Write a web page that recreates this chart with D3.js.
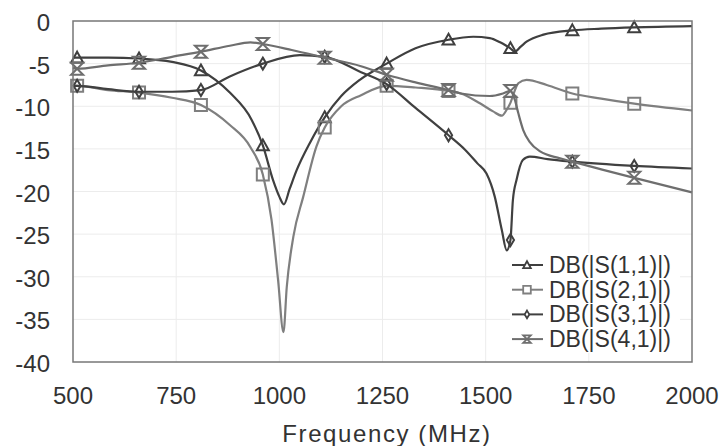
<!DOCTYPE html>
<meta charset="utf-8">
<style>
body { margin: 0; background: #fff; }
text { font-family: "Liberation Sans", Arial, sans-serif; fill: #333; }
</style>
<body>
<div class="chart"></div>
<script src="https://cdn.jsdelivr.net/npm/d3@7"></script>
<script>

// frequencies (MHz) where the markers sit
var markerFreqs = [510, 660, 810, 960, 1110, 1260, 1410, 1560, 1710, 1860];
var xTicks = [500, 750, 1000, 1250, 1500, 1750, 2000];
var yTicks = [0, -5, -10, -15, -20, -25, -30, -35, -40];
var seriesNames = ["DB(|S(1,1)|)", "DB(|S(2,1)|)", "DB(|S(3,1)|)", "DB(|S(4,1)|)"];

// [frequency, dB]
var s11 = [[500,-4.3],[510,-4.3],[585,-4.3],[660,-4.4],[740,-4.8],[810,-5.8],[880,-8.4],[933,-11.6],
  [960,-14.6],[985,-18.7],[1000,-20.6],[1011,-21.5],[1025,-19.7],[1042,-17.5],[1074,-14.3],[1110,-11.3],
  [1150,-8.8],[1195,-6.9],[1260,-5.0],[1330,-3.2],[1410,-2.2],[1470,-1.85],[1510,-2.0],[1535,-2.5],
  [1550,-2.9],[1560,-3.2],[1570,-3.6],[1585,-3.0],[1600,-2.4],[1640,-1.6],[1710,-1.1],[1780,-0.9],
  [1860,-0.75],[2000,-0.6]];

var s21 = [[500,-7.6],[510,-7.6],[585,-8.1],[660,-8.4],[740,-9.0],[810,-9.85],[880,-12.2],[930,-14.8],
  [960,-18.0],[981,-23.3],[997,-30.4],[1010,-36.5],[1018,-31.2],[1034,-25.3],[1058,-20.6],[1090,-14.7],
  [1110,-12.5],[1150,-10.0],[1198,-8.7],[1260,-7.6],[1330,-7.8],[1410,-8.2],[1440,-8.5],[1486,-9.65],
  [1518,-10.6],[1539,-11.1],[1551,-10.4],[1560,-9.6],[1571,-8.1],[1579,-7.3],[1599,-6.9],[1648,-7.5],
  [1710,-8.5],[1780,-9.1],[1860,-9.7],[2000,-10.5]];

var s31 = [[500,-7.6],[510,-7.6],[585,-8.0],[660,-8.3],[740,-8.3],[810,-8.1],[880,-6.5],[960,-5.0],
  [1050,-4.0],[1110,-4.2],[1198,-6.0],[1260,-7.4],[1330,-10.2],[1410,-13.4],[1450,-15.1],[1480,-16.7],
  [1502,-17.9],[1522,-20.6],[1539,-24.5],[1551,-26.9],[1560,-25.7],[1566,-21.0],[1575,-18.6],[1590,-16.3],
  [1607,-15.9],[1650,-16.2],[1710,-16.5],[1860,-17.0],[2000,-17.3]];

var s41 = [[500,-5.5],[510,-5.6],[585,-5.2],[660,-4.9],[740,-4.2],[810,-3.6],[880,-2.9],[930,-2.5],
  [960,-2.7],[1030,-3.4],[1110,-4.3],[1198,-5.3],[1260,-6.3],[1330,-7.2],[1410,-8.1],[1440,-8.5],
  [1510,-8.8],[1542,-8.5],[1560,-8.2],[1571,-9.3],[1579,-10.8],[1591,-12.8],[1607,-14.2],[1632,-15.3],
  [1680,-16.1],[1710,-16.5],[1780,-17.4],[1860,-18.4],[2000,-20.1]];

var width = 724, height = 446;
var margin = {top: 21, right: 32, bottom: 84, left: 73};

var svg = d3.select(".chart").append("svg")
    .attr("width", width)
    .attr("height", height);

var x = d3.scaleLinear().domain([500, 2000]).range([margin.left, width - margin.right]);
var y = d3.scaleLinear().domain([-40, 0]).range([height - margin.bottom, margin.top]);

// grid
svg.append("g").selectAll("line").data(xTicks.slice(1, -1)).enter().append("line")
    .attr("x1", function(d) { return x(d); }).attr("x2", function(d) { return x(d); })
    .attr("y1", y(0)).attr("y2", y(-40))
    .attr("stroke", "#ececec").attr("stroke-width", 1);
svg.append("g").selectAll("line").data(yTicks.slice(1, -1)).enter().append("line")
    .attr("y1", function(d) { return y(d); }).attr("y2", function(d) { return y(d); })
    .attr("x1", x(500)).attr("x2", x(2000))
    .attr("stroke", "#ececec").attr("stroke-width", 1);

// tick labels
svg.append("g").selectAll("text").data(yTicks).enter().append("text")
    .attr("x", 50)
    .attr("y", function(d) { return y(d) + 10; })
    .attr("text-anchor", "end")
    .style("font-size", "24px")
    .text(function(d) { return d; });

svg.append("g").selectAll("text").data(xTicks).enter().append("text")
    .attr("x", function(d) { return x(d); })
    .attr("y", 404)
    .attr("text-anchor", "middle")
    .style("font-size", "24px")
    .text(function(d) { return d; });

svg.append("text")
    .attr("x", 387).attr("y", 442)
    .attr("text-anchor", "middle")
    .style("font-size", "24px")
    .style("letter-spacing", "1.6px")
    .text("Frequency (MHz)");

// marker shapes
function markerPath(kind, s) {
  if (kind == "tri") return "M0," + (-s) + "L" + s + "," + (s * 0.8) + "L" + (-s) + "," + (s * 0.8) + "Z";
  if (kind == "sq") return "M" + (-s) + "," + (-s) + "H" + s + "V" + s + "H" + (-s) + "Z";
  if (kind == "dia") return "M0," + (-s) + "L" + (s * 0.6) + ",0L0," + s + "L" + (-s * 0.6) + ",0Z";
  return "M" + (-s) + "," + (-s) + "H" + s + "L" + (-s) + "," + s + "H" + s + "Z";
}

var series = [
  {name: seriesNames[0], data: s11, color: "#3f3f3f", kind: "tri"},
  {name: seriesNames[1], data: s21, color: "#7f7f7f", kind: "sq"},
  {name: seriesNames[2], data: s31, color: "#404040", kind: "dia"},
  {name: seriesNames[3], data: s41, color: "#6e6e6e", kind: "hg"}
];

var line = d3.line()
    .x(function(d) { return x(d[0]); })
    .y(function(d) { return y(d[1]); })
    .curve(d3.curveMonotoneX);

series.forEach(function(s) {
  svg.append("path")
      .attr("d", line(s.data))
      .attr("fill", "none")
      .attr("stroke", s.color)
      .attr("stroke-width", 2.2);

  svg.append("g").selectAll("path")
      .data(s.data.filter(function(d) { return markerFreqs.indexOf(d[0]) >= 0; }))
      .enter().append("path")
      .attr("transform", function(d) { return "translate(" + x(d[0]) + "," + y(d[1]) + ")"; })
      .attr("d", markerPath(s.kind, 6))
      .attr("fill", "none")
      .attr("stroke", s.color)
      .attr("stroke-width", 2);
});

// frame
svg.append("rect")
    .attr("x", x(500)).attr("y", y(0))
    .attr("width", x(2000) - x(500)).attr("height", y(-40) - y(0))
    .attr("fill", "none")
    .attr("stroke", "#777")
    .attr("stroke-width", 1.5);

// legend
var legend = svg.append("g");
legend.append("rect")
    .attr("x", 510).attr("y", 253)
    .attr("width", 170).attr("height", 100)
    .attr("fill", "#fff");

var row = legend.selectAll("g").data(series).enter().append("g")
    .attr("transform", function(d, i) { return "translate(0," + (265 + i * 24.7) + ")"; });

row.append("line")
    .attr("x1", 512).attr("x2", 543)
    .attr("stroke", function(d) { return d.color; })
    .attr("stroke-width", 2);
row.append("path")
    .attr("transform", "translate(527,0)")
    .attr("d", function(d) { return markerPath(d.kind, 3.8); })
    .attr("fill", "#fff")
    .attr("stroke", function(d) { return d.color; })
    .attr("stroke-width", 1.8);
row.append("text")
    .attr("x", 549)
    .attr("y", 8)
    .style("font-size", "23px")
    .text(function(d) { return d.name; });

</script>
</body>
